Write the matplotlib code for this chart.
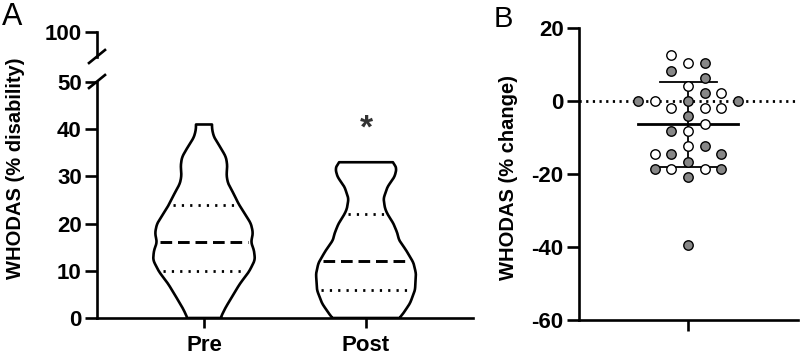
import matplotlib.pyplot as plt
import numpy as np
from matplotlib.lines import Line2D

plt.rcParams['font.family'] = ['Liberation Sans', 'DejaVu Sans']
plt.rcParams['font.weight'] = 'bold'

# panel A: violin outlines (value, half-width)
groups = ['Pre', 'Post']
pre_y = [0, 2, 4.5, 7.3, 9.8, 12.3, 14.4, 16, 18, 20, 22, 24.2, 26.4, 28.5,
         30.2, 32.3, 34.1, 36.2, 38.3, 40, 41]
pre_w = [16.5, 21, 28, 36, 45, 51, 50, 47, 49, 47, 41, 34.5, 29.5, 24,
         22.5, 23.3, 22, 16.3, 10, 8, 8]
post_y = [0, 0.6, 3.1, 5.9, 9.4, 11.7, 14.4, 16.5, 17.9, 20, 22, 23.2,
          25.3, 27.8, 29.9, 31.5, 32.5, 33]
post_w = [33, 36, 44, 49, 50, 47.5, 40, 33, 31.5, 27.5, 21.5, 19, 17.5,
          21.5, 28.5, 30.5, 29, 26]
medians = [16, 12]
q1 = [10, 6]
q3 = [24, 22]

# panel B: % change, swarm slot and fill (1 = grey, 0 = open)
change = [12.6, 10.3, 10.3, 8.2, 6.2, 4.1, 2.1, 2.1, 0, 0, 0, 0,
          -2.0, -2.0, -2.0, -4.1, -6.3, -8.2, -8.2, -12.3, -12.3,
          -14.5, -14.5, -14.5, -16.6, -18.7, -18.7, -18.7, -18.7, -20.7, -39.5]
slot = [-1, 0, 1, -1, 1, 0, 1, 2, -3, -2, 0, 3,
        -1, 1, 2, 0, 1, -1, 0, 0, 1,
        -2, -1, 2, 0, -2, -1, 1, 2, 0, 0]
grey = [0, 0, 1, 1, 1, 0, 1, 0, 1, 0, 1, 1,
        0, 0, 0, 1, 0, 1, 0, 0, 1,
        0, 1, 1, 1, 1, 0, 0, 1, 1, 1]

W, H = 800, 356
fig = plt.figure(figsize=(W / 100, H / 100), dpi=100)

def box(x0, y0, x1, y1):
    return [x0 / W, 1 - y1 / H, (x1 - x0) / W, (y1 - y0) / H]

lw = 1.9
tick_fs = 16
px_per_unit = 162.0

ax = fig.add_axes(box(97, 82, 473, 318))
ax_top = fig.add_axes(box(97, 32, 473, 56.5))

for i, (yy, ww) in enumerate([(pre_y, pre_w), (post_y, post_w)]):
    yf = np.linspace(yy[0], yy[-1], 400)
    wf = np.interp(yf, yy, ww)
    k = np.ones(15) / 15
    wf = np.convolve(np.pad(wf, 7, mode='edge'), k, mode='valid')
    wf = wf / px_per_unit
    xs = np.concatenate([i + wf, (i - wf)[::-1], [i + wf[0]]])
    ys = np.concatenate([yf, yf[::-1], [yf[0]]])
    ax.plot(xs, ys, color='black', lw=lw, solid_joinstyle='round', zorder=3)
    hw = np.interp(medians[i], yf, wf) - 0.02
    ax.plot([i - hw, i + hw], [medians[i]] * 2, color='black', lw=2.1,
            linestyle=(0, (4, 2)), zorder=2)
    for val in (q1[i], q3[i]):
        hw = np.interp(val, yf, wf) - 0.025
        ax.plot([i - hw, i + hw], [val, val], color='black', lw=2.0,
                linestyle=(0, (0.8, 2.2)), zorder=2)

ax.text(1, 40, '*', ha='center', va='center', fontsize=24, color='#333333')

ax.set_xlim(-107 / px_per_unit, 1 + 107 / px_per_unit)
ax.set_ylim(0, 50)
ax.set_xticks(range(len(groups)))
ax.set_xticklabels(groups, fontweight='bold')
ax.set_yticks(range(0, 51, 10))
ax.spines['top'].set_visible(False)
ax.spines['right'].set_visible(False)
for s in ['left', 'bottom']:
    ax.spines[s].set_linewidth(lw)
ax.tick_params(axis='y', length=9, width=lw, labelsize=tick_fs, pad=2)
ax.tick_params(axis='x', length=7, width=lw, labelsize=tick_fs, pad=5)

ax_top.set_ylim(100 - 24.5 / 4.73, 100)
ax_top.set_yticks([100])
ax_top.set_xticks([])
for s in ['top', 'right', 'bottom']:
    ax_top.spines[s].set_visible(False)
ax_top.spines['left'].set_linewidth(lw)
ax_top.tick_params(axis='y', length=9, width=lw, labelsize=tick_fs, pad=2)
ax_top.patch.set_alpha(0)

for (x0, y0, x1, y1) in [(89, 63, 105, 50), (89, 88, 105, 75)]:
    fig.add_artist(Line2D([x0 / W, x1 / W], [1 - y0 / H, 1 - y1 / H],
                          transform=fig.transFigure, color='black', lw=lw))

fig.text(16 / W, 1 - 168 / H, 'WHODAS (% disability)', rotation=90,
         ha='center', va='center', fontsize=14.5, fontweight='bold')
fig.text(2 / W, 1 - 2 / H, 'A', ha='left', va='top', fontsize=22,
         fontweight='normal')

# panel B
bx = fig.add_axes(box(579, 28, 798, 320))
col = 16.7
vals = np.array(change)
m = vals.mean()
sd = vals.std(ddof=1)
bx.axhline(0, color='black', lw=2.0, linestyle=(0, (0.8, 1.6)), zorder=1)
bx.plot([0, 0], [m - sd, m + sd], color='black', lw=1.3, zorder=2)
bx.plot([-28.5, 28.5], [m + sd, m + sd], color='black', lw=1.3, zorder=2)
bx.plot([-28.5, 28.5], [m - sd, m - sd], color='black', lw=1.3, zorder=2)
bx.plot([-50, 50], [m, m], color='black', lw=2.0, zorder=2)
xs = np.array(slot) * col
for g, c in [(1, '#878787'), (0, 'white')]:
    sel = np.array(grey) == g
    bx.plot(xs[sel], vals[sel], 'o', ms=6.8, mfc=c, mec='black', mew=1.0,
            zorder=4)

bx.set_xlim(-109, 110)
bx.set_ylim(-60, 20)
bx.set_yticks(range(-60, 21, 20))
bx.set_yticklabels([str(v) for v in range(-60, 21, 20)])
bx.set_xticks([0])
bx.set_xticklabels([''])
bx.spines['top'].set_visible(False)
bx.spines['right'].set_visible(False)
for s in ['left', 'bottom']:
    bx.spines[s].set_linewidth(lw)
bx.tick_params(axis='y', length=9, width=lw, labelsize=tick_fs, pad=2)
bx.tick_params(axis='x', length=8, width=lw)

fig.text(509 / W, 1 - 177 / H, 'WHODAS (% change)', rotation=90,
         ha='center', va='center', fontsize=14.5, fontweight='bold')
fig.text(494 / W, 1 - 5 / H, 'B', ha='left', va='top', fontsize=21,
         fontweight='normal')

fig.savefig('out.png', dpi=100)
